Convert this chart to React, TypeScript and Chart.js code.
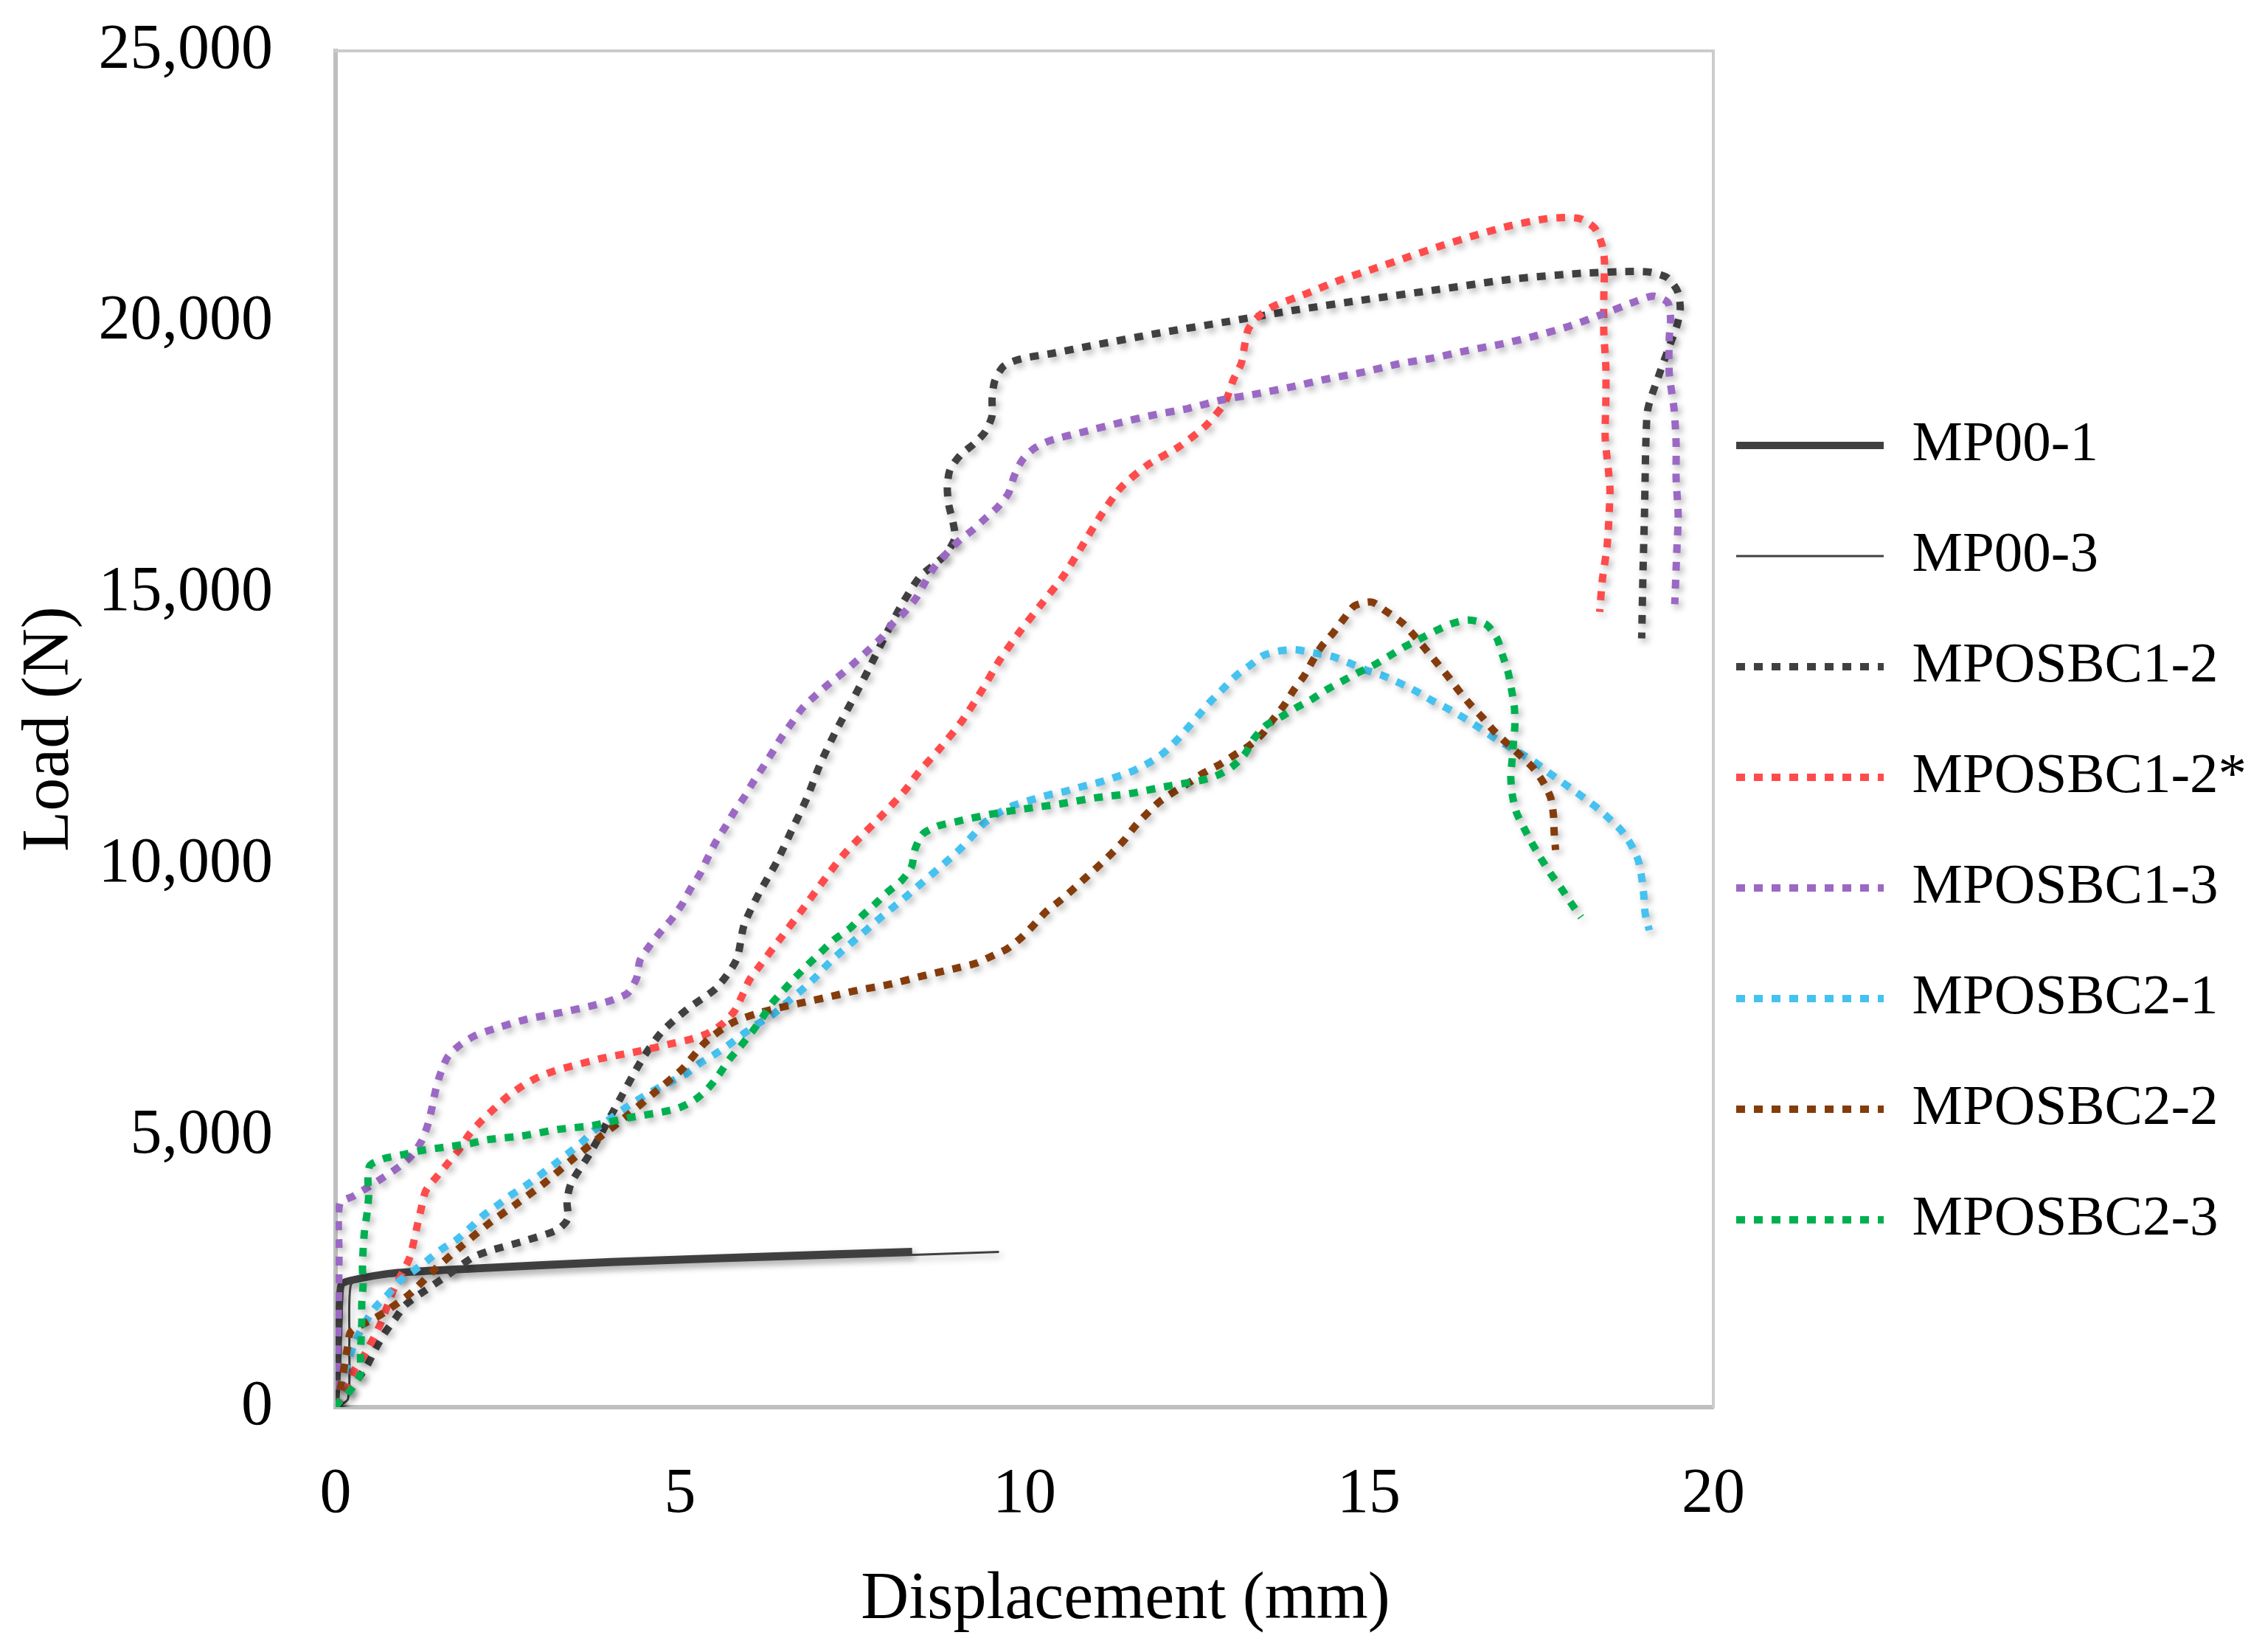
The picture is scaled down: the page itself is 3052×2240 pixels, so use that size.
import React, { useEffect, useRef } from 'react';
import Chart from 'chart.js/auto';

// displacement (mm), load (N) pairs
const seriesNames = ['MP00-1', 'MP00-3', 'MPOSBC1-2', 'MPOSBC1-2*', 'MPOSBC1-3', 'MPOSBC2-1', 'MPOSBC2-2', 'MPOSBC2-3'];
const seriesColors = ['#404040', '#404040', '#404040', '#FF4B4B', '#9B69C3', '#45C2F0', '#843C0C', '#00B050'];
const xTicks = [0, 5, 10, 15, 20];
const yTicks = [0, 5000, 10000, 15000, 20000, 25000];

const mp00_1: [number, number][] = [
  [0, 0], [0.03, 800], [0.05, 1600], [0.08, 2250], [0.2, 2330], [0.9, 2480], [2, 2560], [4, 2680], [6, 2770], [8.37, 2870],
];
const mp00_3: [number, number][] = [
  [0, 0], [0.18, 150], [0.2, 1200], [0.22, 2250], [0.4, 2370], [1.5, 2470], [4, 2620], [7, 2750], [9.63, 2860],
];
const mposbc1_2: [number, number][] = [
  [0, 0], [0.2, 300], [0.33, 530], [0.47, 800], [0.58, 1080], [0.71, 1360], [0.87, 1640], [1.01, 1880], [1.3, 2150],
  [1.59, 2400], [1.99, 2760], [2.23, 2880], [2.73, 3060], [3.22, 3270], [3.37, 3470], [3.36, 3800], [3.42, 4130],
  [3.69, 4670], [4.06, 5520], [4.44, 6390], [4.73, 6910], [5.11, 7340], [5.53, 7730], [5.82, 8250], [5.93, 8890],
  [6.15, 9480], [6.4, 10040], [6.62, 10630], [6.84, 11220], [7.03, 11840], [7.25, 12430], [7.49, 13000], [7.73, 13580],
  [7.96, 14170], [8.2, 14750], [8.47, 15290], [8.66, 15500], [8.85, 15710], [8.99, 16020], [8.96, 16330], [8.9, 16640],
  [8.88, 16970], [8.92, 17280], [9.07, 17550], [9.26, 17750], [9.43, 17980], [9.53, 18270], [9.53, 18590], [9.57, 18920],
  [9.7, 19190], [9.94, 19320], [10.43, 19430], [10.95, 19560], [11.96, 19800], [12.95, 20010], [13.97, 20230],
  [14.98, 20420], [16.0, 20600], [17.06, 20790], [18.08, 20900], [18.84, 20935], [19.09, 20920], [19.33, 20820],
  [19.48, 20570], [19.52, 20250], [19.47, 19930], [19.38, 19620], [19.21, 19020], [19.05, 18400], [19.02, 17750],
  [19.01, 17110], [19.0, 16420], [18.98, 15440], [18.96, 14170],
];
const mposbc1_2s: [number, number][] = [
  [0, 0], [0.15, 350], [0.28, 700], [0.44, 1010], [0.65, 1530], [0.85, 2190], [1.07, 2740], [1.19, 3370], [1.25, 3700],
  [1.31, 3990], [1.47, 4250], [1.64, 4510], [1.8, 4760], [1.94, 5030], [2.12, 5280], [2.3, 5500], [2.5, 5730],
  [2.7, 5910], [2.92, 6070], [3.16, 6190], [3.41, 6280], [3.9, 6440], [4.4, 6560], [4.91, 6710], [5.15, 6780],
  [5.4, 6890], [5.61, 7060], [5.79, 7300], [5.9, 7580], [6.01, 7880], [6.16, 8140], [6.47, 8660], [6.78, 9180],
  [7.08, 9700], [7.4, 10220], [7.94, 10920], [8.28, 11390], [8.45, 11680], [8.77, 12140], [9.1, 12660], [9.38, 13210],
  [9.64, 13770], [9.93, 14290], [10.25, 14810], [10.57, 15330], [10.83, 15860], [11.1, 16420], [11.4, 16950],
  [11.79, 17370], [12.24, 17700], [12.64, 18100], [12.91, 18520], [13.03, 18930], [13.15, 19250], [13.2, 19600],
  [13.25, 19870], [13.4, 20110], [13.61, 20290], [14.1, 20530], [14.57, 20770], [15.06, 20980], [15.59, 21210],
  [16.08, 21420], [16.57, 21610], [17.06, 21780], [17.57, 21905], [17.81, 21926], [18.07, 21905], [18.28, 21730],
  [18.38, 21440], [18.42, 21120], [18.41, 20470], [18.41, 19820], [18.44, 19170], [18.44, 18530], [18.43, 17880],
  [18.48, 17230], [18.5, 16880], [18.46, 15900], [18.39, 15260], [18.35, 14660],
];
const mposbc1_3: [number, number][] = [
  [0, 0], [0.02, 800], [0.04, 1800], [0.05, 2800], [0.06, 3750], [0.26, 3890], [0.48, 4060], [0.7, 4240], [0.91, 4420],
  [1.1, 4630], [1.25, 4910], [1.34, 5210], [1.4, 5520], [1.45, 5830], [1.52, 6140], [1.63, 6460], [1.81, 6680],
  [2.03, 6850], [2.27, 6960], [2.77, 7150], [3.26, 7270], [3.76, 7410], [4.01, 7500], [4.24, 7630], [4.37, 7910],
  [4.42, 8240], [4.55, 8490], [4.71, 8750], [4.88, 9000], [5.03, 9270], [5.15, 9550], [5.29, 9830], [5.4, 10120],
  [5.52, 10420], [5.66, 10700], [5.79, 10980], [5.93, 11240], [6.06, 11520], [6.2, 11790], [6.34, 12070], [6.47, 12340],
  [6.62, 12610], [6.78, 12890], [6.96, 13110], [7.15, 13320], [7.35, 13520], [7.54, 13730], [7.74, 13960],
  [7.93, 14190], [8.09, 14450], [8.27, 14670], [8.43, 14920], [8.55, 15190], [8.69, 15480], [8.85, 15710], [9.04, 15960],
  [9.24, 16160], [9.43, 16380], [9.62, 16600], [9.77, 16850], [9.85, 17160], [9.97, 17460], [10.15, 17680],
  [10.38, 17820], [10.87, 17980], [11.37, 18140], [11.88, 18290], [12.38, 18410], [12.88, 18570], [13.38, 18680],
  [13.89, 18810], [14.38, 18950], [14.89, 19070], [15.43, 19230], [15.94, 19340], [16.44, 19480], [16.94, 19600],
  [17.43, 19750], [17.92, 19930], [18.4, 20150], [18.89, 20390], [19.13, 20480], [19.34, 20360], [19.38, 20030],
  [19.36, 19710], [19.36, 19060], [19.43, 18400], [19.46, 17770], [19.46, 17120], [19.49, 16440], [19.47, 15790],
  [19.44, 14800],
];
const mposbc2_1: [number, number][] = [
  [0, 0], [0.1, 500], [0.25, 1100], [0.4, 1500], [0.59, 1860], [0.77, 2090], [0.93, 2330], [1.14, 2520], [1.34, 2710],
  [1.55, 2920], [1.76, 3090], [1.95, 3300], [2.15, 3540], [2.36, 3730], [2.56, 3920], [2.78, 4100], [2.99, 4300],
  [3.19, 4490], [3.39, 4690], [3.59, 4900], [3.77, 5120], [3.97, 5300], [4.2, 5510], [4.42, 5690], [4.75, 5930],
  [5.08, 6140], [5.29, 6340], [5.5, 6500], [5.71, 6680], [5.93, 6890], [6.15, 7080], [6.36, 7250], [6.57, 7480],
  [6.75, 7670], [6.94, 7890], [7.11, 8120], [7.3, 8350], [7.5, 8570], [7.7, 8790], [7.89, 9000], [8.09, 9210],
  [8.29, 9420], [8.48, 9630], [8.68, 9850], [8.87, 10060], [9.06, 10280], [9.23, 10510], [9.41, 10760], [9.62, 10950],
  [9.84, 11090], [10.09, 11190], [10.34, 11280], [10.59, 11350], [10.84, 11440], [11.09, 11520], [11.34, 11620],
  [11.58, 11730], [11.81, 11880], [12.02, 12060], [12.2, 12280], [12.37, 12520], [12.54, 12770], [12.71, 13020],
  [12.89, 13250], [13.07, 13480], [13.27, 13670], [13.46, 13850], [13.7, 13940], [13.94, 13960], [14.21, 13900],
  [14.46, 13840], [14.71, 13720], [14.95, 13590], [15.19, 13490], [15.46, 13340], [15.68, 13200], [15.91, 13030],
  [16.14, 12880], [16.36, 12720], [16.57, 12550], [16.78, 12370], [17.0, 12200], [17.23, 12030], [17.44, 11860],
  [17.65, 11660], [17.86, 11470], [18.07, 11280], [18.28, 11080], [18.47, 10870], [18.65, 10650], [18.8, 10380],
  [18.91, 10080], [18.96, 9760], [18.99, 9440], [19.01, 9110], [19.07, 8790],
];
const mposbc2_2: [number, number][] = [
  [0, 0], [0.08, 420], [0.17, 1080], [0.22, 1390], [0.43, 1550], [0.65, 1700], [1.08, 2090], [1.45, 2550], [1.83, 2970],
  [2.23, 3390], [2.64, 3760], [3.05, 4150], [3.43, 4560], [3.84, 4980], [4.24, 5380], [4.63, 5800], [5.03, 6230],
  [5.37, 6730], [5.78, 7100], [6.27, 7310], [6.76, 7450], [7.26, 7590], [7.52, 7670], [8.03, 7790], [8.53, 7950],
  [9.04, 8100], [9.29, 8180], [9.52, 8310], [9.75, 8450], [9.95, 8650], [10.13, 8880], [10.31, 9130], [10.51, 9330],
  [10.7, 9540], [10.89, 9760], [11.08, 9980], [11.26, 10200], [11.44, 10440], [11.6, 10700], [11.77, 10930],
  [11.96, 11160], [12.18, 11350], [12.4, 11520], [12.6, 11690], [12.84, 11850], [13.06, 12030], [13.26, 12190],
  [13.46, 12420], [13.61, 12680], [13.77, 12940], [13.91, 13220], [14.06, 13480], [14.18, 13750], [14.31, 14020],
  [14.48, 14270], [14.63, 14520], [14.79, 14770], [15.04, 14840], [15.25, 14670], [15.49, 14450], [15.66, 14220],
  [15.83, 13960], [16.0, 13700], [16.16, 13450], [16.31, 13200], [16.48, 12940], [16.65, 12710], [16.82, 12460],
  [17.0, 12240], [17.2, 12010], [17.38, 11790], [17.53, 11520], [17.64, 11230], [17.68, 10900], [17.69, 10580],
  [17.71, 10270],
];
const mposbc2_3: [number, number][] = [
  [0, 0], [0.06, 110], [0.22, 320], [0.36, 610], [0.36, 940], [0.37, 1250], [0.38, 1580], [0.38, 1910], [0.4, 2260],
  [0.39, 2570], [0.4, 2900], [0.42, 3250], [0.46, 3600], [0.48, 3900], [0.47, 4200], [0.5, 4460], [0.7, 4580],
  [0.96, 4650], [1.2, 4720], [1.45, 4770], [1.69, 4810], [1.95, 4860], [2.2, 4930], [2.71, 5000], [3.23, 5120],
  [3.73, 5190], [4.24, 5330], [4.74, 5440], [4.99, 5520], [5.22, 5670], [5.41, 5880], [5.56, 6120], [5.71, 6400],
  [5.87, 6640], [6.04, 6910], [6.19, 7170], [6.33, 7440], [6.5, 7680], [6.68, 7930], [6.86, 8160], [7.04, 8380],
  [7.23, 8610], [7.47, 8830], [7.63, 9040], [7.82, 9260], [8.01, 9490], [8.21, 9700], [8.36, 9960], [8.41, 10280],
  [8.52, 10560], [8.74, 10710], [9.0, 10790], [9.51, 10930], [10.01, 11030], [10.52, 11120], [11.02, 11230],
  [11.53, 11310], [12.05, 11440], [12.55, 11550], [12.79, 11640], [13.01, 11800], [13.2, 12040], [13.33, 12320],
  [13.5, 12560], [13.72, 12720], [13.94, 12890], [14.16, 13040], [14.38, 13220], [14.61, 13380], [14.83, 13530],
  [15.06, 13670], [15.3, 13850], [15.51, 14010], [15.74, 14160], [15.97, 14310], [16.2, 14440], [16.45, 14510],
  [16.7, 14430], [16.86, 14170], [16.94, 13860], [17.02, 13550], [17.07, 13230], [17.11, 12920], [17.12, 12590],
  [17.1, 12270], [17.08, 11940], [17.06, 11620], [17.08, 11300], [17.14, 10970], [17.25, 10680], [17.37, 10390],
  [17.5, 10110], [17.64, 9830], [17.79, 9570], [17.93, 9300], [18.08, 9030],
];

const seriesData = [mp00_1, mp00_3, mposbc1_2, mposbc1_2s, mposbc1_3, mposbc2_1, mposbc2_2, mposbc2_3];

const FONT = 'Liberation Serif';

// soft drop shadow under the curves, like the original figure
const shadowPlugin = {
  id: 'curveShadow',
  beforeDatasetsDraw(chart: Chart) {
    const ctx = chart.ctx;
    ctx.save();
    ctx.shadowColor = 'rgba(0, 0, 0, 0.3)';
    ctx.shadowBlur = 10;
    ctx.shadowOffsetX = 4;
    ctx.shadowOffsetY = 5;
  },
  afterDatasetsDraw(chart: Chart) {
    chart.ctx.restore();
  },
};

const App: React.FC = () => {
  const canvasRef = useRef<HTMLCanvasElement>(null);
  const chartRef = useRef<Chart | null>(null);

  useEffect(() => {
    if (!canvasRef.current) return;
    if (chartRef.current) chartRef.current.destroy();
    const ctx = canvasRef.current.getContext('2d');
    if (!ctx) return;

    const datasets = seriesNames.map((name, i) => {
      const solid = i < 2;
      return {
        label: name,
        data: seriesData[i].map(([x, y]) => ({ x, y })),
        borderColor: seriesColors[i],
        backgroundColor: seriesColors[i],
        borderWidth: i === 1 ? 3 : 10,
        borderDash: solid ? [] : [12, 12],
        borderCapStyle: 'butt' as const,
        pointRadius: 0,
        pointHoverRadius: 0,
        tension: 0.25,
        fill: false,
        order: seriesNames.length - i,
      };
    });

    const defaultLabels = (Chart as any).defaults.plugins.legend.labels.generateLabels;

    chartRef.current = new Chart(ctx, {
      type: 'line',
      data: { datasets },
      plugins: [shadowPlugin],
      options: {
        animation: false,
        responsive: true,
        maintainAspectRatio: false,
        locale: 'en-US',
        layout: { padding: { top: 69, left: 0, right: 0, bottom: 0 } },
        plugins: {
          tooltip: { enabled: false },
          title: {
            display: true,
            position: 'bottom',
            text: 'Displacement (mm)',
            color: '#000',
            font: { family: FONT, size: 90, weight: 'normal', lineHeight: 1.2 },
            padding: { top: 0, bottom: 16 },
          },
          legend: {
            display: true,
            position: 'right',
            align: 'start',
            maxWidth: 729,
            title: {
              display: true,
              text: '',
              font: { size: 10, lineHeight: 1 },
              padding: { top: 455.5, bottom: 0 },
            },
            labels: {
              color: '#000',
              font: { family: FONT, size: 77, lineHeight: 1.5455 },
              usePointStyle: true,
              pointStyle: 'line',
              pointStyleWidth: 200,
              padding: 31,
              sort: (a: any, b: any) => a.datasetIndex - b.datasetIndex,
              generateLabels: (chart: Chart) =>
                defaultLabels(chart).map((l: any) => {
                  const ds: any = chart.data.datasets[l.datasetIndex];
                  return {
                    ...l,
                    text: [l.text],
                    lineDash: ds.borderDash,
                    lineWidth: ds.borderWidth,
                    strokeStyle: ds.borderColor,
                    lineCap: 'butt',
                  };
                }),
            },
          },
        },
        scales: {
          x: {
            type: 'linear',
            position: 'bottom',
            min: 0,
            max: 20,
            afterBuildTicks: (s: any) => {
              s.ticks = xTicks.map(v => ({ value: v }));
            },
            afterFit: (s: any) => {
              s.height = 208;
            },
            grid: { display: false, drawTicks: false },
            border: { display: true, color: '#BFBFBF', width: 6 },
            ticks: {
              color: '#000',
              padding: 68,
              maxRotation: 0,
              font: { family: FONT, size: 86 },
            },
          },
          y: {
            type: 'linear',
            position: 'left',
            min: 0,
            max: 25000,
            afterBuildTicks: (s: any) => {
              s.ticks = yTicks.map(v => ({ value: v }));
            },
            afterFit: (s: any) => {
              s.width = 455;
              s.paddingTop = 0;
              s.paddingBottom = 0;
            },
            grid: { display: false, drawTicks: false },
            border: { display: true, color: '#BFBFBF', width: 6 },
            ticks: {
              color: '#000',
              padding: 85,
              font: { family: FONT, size: 86 },
              callback: (v: any) => Number(v).toLocaleString('en-US'),
            },
            title: {
              display: true,
              text: 'Load (N)',
              color: '#000',
              font: { family: FONT, size: 90, lineHeight: 1.2 },
              padding: { top: 14, bottom: 0 },
            },
          },
          xTop: {
            type: 'linear',
            position: 'top',
            display: true,
            grid: { display: false, drawTicks: false },
            border: { display: true, color: '#CCCCCC', width: 4 },
            ticks: { display: false },
          },
          yRight: {
            type: 'linear',
            position: 'right',
            display: true,
            grid: { display: false, drawTicks: false },
            border: { display: true, color: '#CCCCCC', width: 4 },
            ticks: { display: false },
          },
        },
      },
    });

    return () => {
      if (chartRef.current) {
        chartRef.current.destroy();
        chartRef.current = null;
      }
    };
  }, []);

  return (
    <div style={{ position: 'fixed', left: 0, top: 0, width: '100vw', height: '100vh', background: '#fff' }}>
      <canvas ref={canvasRef}></canvas>
    </div>
  );
};

export default App;
